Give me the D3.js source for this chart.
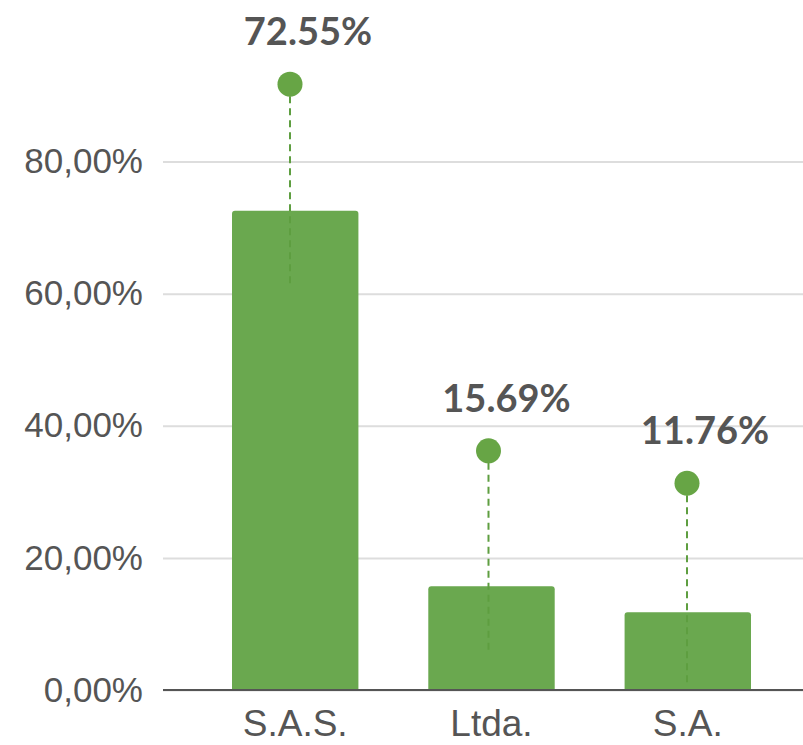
<!DOCTYPE html>
<html>
<head>
<meta charset="utf-8">
<script src="https://cdn.jsdelivr.net/npm/d3@7"></script>
<style>
  body { margin: 0; background: #fff; }
</style>
</head>
<body>
<div id="wrapper"></div>
<script>
// chart data
const categories = ["S.A.S.", "Ltda.", "S.A."]
const shares = [72.55, 15.69, 11.76]
const shareLabels = ["72.55%", "15.69%", "11.76%"]
// where the lollipop markers sit (same % scale as the bars)
const markerValues = [91.7, 36.2, 31.3]
const yTicks = [0, 20, 40, 60, 80]

const width = 803, height = 745

const svg = d3.select("#wrapper")
    .append("svg")
        .attr("width", width)
        .attr("height", height)

const y = d3.scaleLinear()
    .domain([0, 80])
    .range([690, 161.5])

const x = d3.scaleBand()
    .domain(categories)
    .range([232, 751])
    .paddingInner(0.356)
    .paddingOuter(0)

// markers are a touch left of the bar centres
const xm = d3.scalePoint()
    .domain(categories)
    .range([290, 687])

const green = "#6aa84f"
const grey = "#555555"

// gridlines + tick labels
const yAxis = d3.axisLeft(y)
    .tickValues(yTicks)
    .tickSize(-(width - 163))
    .tickPadding(20)
    .tickFormat(d => d3.format(".2f")(d).replace(".", ",") + "%")

const gy = svg.append("g")
    .attr("transform", "translate(163,0)")
    .call(yAxis)

gy.select(".domain").remove()
gy.selectAll(".tick line")
    .attr("stroke", "#dddddd")
    .attr("stroke-width", 2)
gy.selectAll(".tick text")
    .attr("fill", grey)
    .attr("x", -20)
    .style("font-family", "'Liberation Sans', Arial, Helvetica, sans-serif")
    .style("font-size", "35px")

// bars with slightly rounded tops
const r = 3
svg.append("g")
    .selectAll("path")
    .data(shares)
    .join("path")
    .attr("fill", green)
    .attr("d", (d, i) => {
        const x0 = x(categories[i]), w = x.bandwidth()
        const top = y(d), base = y(0)
        return `M${x0},${base}V${top + r}Q${x0},${top} ${x0 + r},${top}` +
            `H${x0 + w - r}Q${x0 + w},${top} ${x0 + w},${top + r}V${base}Z`
    })

// baseline
svg.append("line")
    .attr("x1", 163)
    .attr("x2", width)
    .attr("y1", y(0))
    .attr("y2", y(0))
    .attr("stroke", grey)
    .attr("stroke-width", 2)

// x labels
const xAxis = d3.axisBottom(x).tickSize(0).tickPadding(20)
const gx = svg.append("g")
    .attr("transform", `translate(0,${y(0)})`)
    .call(xAxis)
gx.select(".domain").remove()
gx.selectAll(".tick text")
    .attr("fill", grey)
    .style("font-family", "'Liberation Sans', Arial, Helvetica, sans-serif")
    .style("font-size", "37px")

// lollipop markers
const stems = svg.append("g")
stems.selectAll("line")
    .data(markerValues)
    .join("line")
    .attr("x1", (d, i) => xm(categories[i]))
    .attr("x2", (d, i) => xm(categories[i]))
    .attr("y1", d => y(d))
    .attr("y2", d => y(d) + 203)
    .attr("stroke", "#5e9e40")
    .attr("stroke-width", 2)
    .attr("stroke-dasharray", "7,5")

svg.append("g")
    .selectAll("circle")
    .data(markerValues)
    .join("circle")
    .attr("cx", (d, i) => xm(categories[i]))
    .attr("cy", d => y(d))
    .attr("r", 12.5)
    .attr("fill", "#67a545")

svg.append("g")
    .selectAll("text")
    .data(markerValues)
    .join("text")
    .attr("x", (d, i) => xm(categories[i]) + 18)
    .attr("y", d => y(d) - 39)
    .attr("text-anchor", "middle")
    .attr("fill", grey)
    .style("font-family", "Lato, sans-serif")
    .style("font-weight", "bold")
    .style("font-size", "38px")
    .text((d, i) => shareLabels[i])
</script>
</body>
</html>
